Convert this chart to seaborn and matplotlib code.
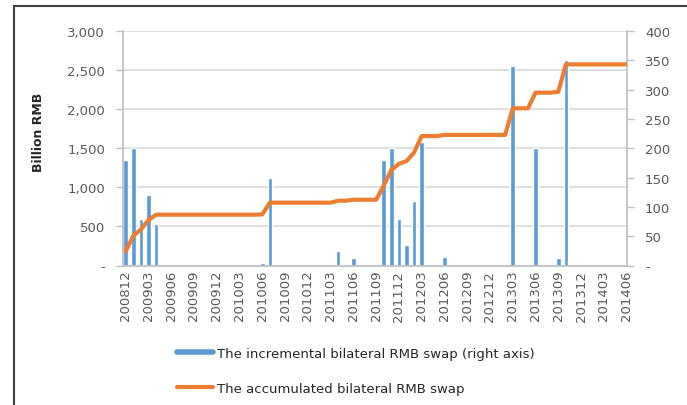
import numpy as np
import pandas as pd
import matplotlib
matplotlib.use("Agg")
import matplotlib.pyplot as plt
import seaborn as sns
from matplotlib.ticker import FixedLocator, FuncFormatter, MultipleLocator
from matplotlib.patches import Rectangle
from matplotlib.lines import Line2D

# ---------------- data ----------------
months = [p.strftime("%Y%m") for p in pd.period_range("2008-12", "2014-06", freq="M")]

# incremental bilateral RMB swap, billion RMB (right axis)
incremental = [
    180, 200, 80, 120, 70, 0, 0, 0, 0, 0, 0, 0,          # 200812-200911
    0, 0, 0, 0, 0, 0, 3.5, 150, 0, 0, 0, 0,              # 200912-201011
    0, 0, 0, 0, 25, 0.7, 12, 0, 0, 0, 180, 200,          # 201012-201111
    80, 35, 110, 210, 0, 0, 15, 0, 0, 0, 0, 0,           # 201112-201211
    0, 0, 0, 340, 0, 0, 200, 0, 0, 12, 350, 0,           # 201212-201311
    0, 0, 0, 0, 0, 0, 0,                                 # 201312-201406
]

# accumulated bilateral RMB swap, billion RMB (left axis)
accumulated = [
    180, 380, 460, 580, 650, 650, 650, 650, 650, 650, 650, 650,
    650, 650, 650, 650, 650, 650, 654, 804, 804, 804, 804, 804,
    804, 804, 804, 804, 829, 829, 841, 841, 841, 841, 1021, 1221,
    1301, 1336, 1446, 1656, 1656, 1656, 1671, 1671, 1671, 1671, 1671, 1671,
    1671, 1671, 1671, 2011, 2011, 2011, 2211, 2211, 2211, 2223, 2573, 2573,
    2573, 2573, 2573, 2573, 2573, 2573, 2573,
]

tick_labels = months[::3]

label_bar = "The incremental bilateral RMB swap (right axis)"
label_line = "The accumulated bilateral RMB swap"

# ---------------- style ----------------
sns.set_theme(style="white")
plt.rcParams["font.family"] = ["DejaVu Sans"]
TXT = "#595959"
GRID = "#D9D9D9"
AXC = "#BFBFBF"
BLUE = "#5B9BD5"
ORANGE = "#ED7D31"
FS = 9.5

df = pd.DataFrame({"month": months, "incremental": incremental,
                   "accumulated": accumulated, "idx": np.arange(len(months))})

fig = plt.figure(figsize=(6.87, 4.06), dpi=100)
fig.patch.set_facecolor("white")
L, R, T, B = 123, 627, 32, 266.5
ax = fig.add_axes([L / 687, 1 - B / 406, (R - L) / 687, (B - T) / 406])
ax2 = ax.twinx()

# bars on the secondary (right) axis
sns.barplot(data=df, x="month", y="incremental", order=months, ax=ax2,
            color=BLUE, saturation=1, width=0.6, label=label_bar)
# line on the primary (left) axis
sns.lineplot(data=df, x="idx", y="accumulated", ax=ax, color=ORANGE,
             linewidth=3, label=label_line)

# put line above bars
ax.set_zorder(ax2.get_zorder() + 1)
ax.patch.set_visible(False)

# x axis
ax.set_xlim(-0.35, len(months) - 1 + 0.05)
ax.set_xticks(np.arange(0, len(months), 3))
ax.set_xticklabels(tick_labels, rotation=90, fontsize=FS, color=TXT)
ax.tick_params(axis="x", length=0, pad=3)
ax.set_xlabel("")

# left axis
ax.set_ylim(0, 3000)
ax.yaxis.set_major_locator(MultipleLocator(500))
ax.yaxis.set_major_formatter(FuncFormatter(lambda v, p: "-" if v == 0 else f"{int(v):,}"))
ax.tick_params(axis="y", length=5, color=AXC, width=1, labelsize=FS, labelcolor=TXT, pad=8)
ax.set_ylabel("Billion RMB", fontsize=9, fontweight="bold", color="#262626")
ax.yaxis.set_label_coords(-0.155, 0.57)

# right axis
ax2.set_ylim(0, 400)
ax2.yaxis.set_major_locator(MultipleLocator(50))
ax2.yaxis.set_major_formatter(FuncFormatter(lambda v, p: "-" if v == 0 else f"{int(v)}"))
ax2.tick_params(axis="y", which="major", length=5, color=AXC, width=1,
                labelsize=FS, labelcolor=TXT, pad=8)
ax2.set_ylabel("")
# horizontal gridlines follow left-axis ticks
ax2.yaxis.remove_overlapping_locs = False
ax2.yaxis.set_minor_locator(FixedLocator(np.arange(0, 3001, 500) * 400 / 3000))
ax2.tick_params(axis="y", which="minor", length=0)
ax2.grid(which="minor", axis="y", color=GRID, linewidth=1.2)
ax2.grid(which="major", visible=False)
ax2.set_axisbelow(True)

for a in (ax, ax2):
    for s in a.spines.values():
        s.set_visible(False)
ax.spines["left"].set_visible(True)
ax.spines["left"].set_color(AXC)
ax.spines["bottom"].set_visible(True)
ax.spines["bottom"].set_color(AXC)
ax2.spines["right"].set_visible(True)
ax2.spines["right"].set_color(AXC)

# legend
if ax.get_legend():
    ax.get_legend().remove()
if ax2.get_legend():
    ax2.get_legend().remove()
handles = [Line2D([], [], color=BLUE, lw=4), Line2D([], [], color=ORANGE, lw=3)]
fig.legend(handles, [label_bar, label_line], loc="upper left",
           bbox_to_anchor=(177 / 687, 1 - 348 / 406), frameon=False,
           fontsize=FS, handlelength=2.7, handletextpad=0.3, labelspacing=1.65,
           borderpad=0, borderaxespad=0, labelcolor="#262626")

# outer frame (partially visible in the reference)
fig.add_artist(Rectangle((14 / 687, -0.1), 2.0, (406 - 7) / 406 + 0.1,
                         transform=fig.transFigure, fill=False,
                         edgecolor="#404040", linewidth=1.5))

fig.savefig("out.png", dpi=100, facecolor="white")
